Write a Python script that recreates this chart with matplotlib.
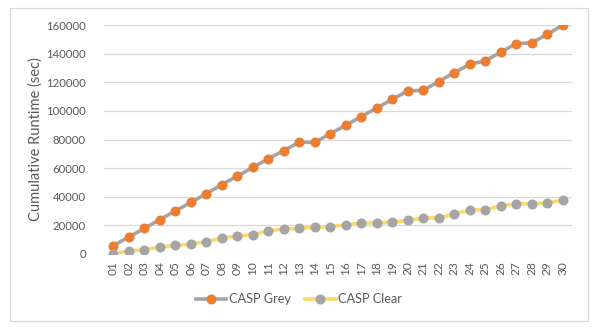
import matplotlib.pyplot as plt
from matplotlib.patches import Rectangle

plt.rcParams['font.family'] = ['Lato', 'DejaVu Sans']

runs = ["%02d" % i for i in range(1, 31)]
casp_grey = [5900, 11800, 17900, 24000, 30100, 36000, 42100, 48500, 54400, 60500,
             66500, 72300, 78100, 78000, 84000, 90000, 96000, 102000, 108000, 114000,
             114400, 120500, 126700, 132500, 135000, 141000, 147000, 147500, 153500, 159800]
casp_clear = [0, 2100, 3000, 4700, 6100, 6800, 8700, 11000, 12700, 13400,
              16200, 17600, 17900, 18800, 19100, 20500, 21600, 21900, 22100, 23500,
              25100, 25300, 27900, 30700, 30900, 33700, 35100, 35100, 35600, 37700]

txt = "#595959"
fig = plt.figure(figsize=(5.98, 3.30), dpi=100)
ax = fig.add_axes([104/598, 1-254/330, (572-104)/598, (254-25)/330])

x = range(len(runs))
ax.plot(x, casp_grey, color="#A5A5A5", lw=2.6, marker="o", ms=6.2,
        mfc="#ED7D31", mec="#ED7D31", label="CASP Grey", zorder=3)
ax.plot(x, casp_clear, color="#FFD966", lw=2.6, marker="o", ms=6.2,
        mfc="#A5A5A5", mec="#A5A5A5", label="CASP Clear", zorder=3)

ax.set_xlim(-0.6, len(runs) - 0.4)
ax.set_ylim(0, 160000)
ax.set_yticks(range(0, 160001, 20000))
ax.set_xticks(list(x))
ax.set_xticklabels(runs, rotation=90)
ax.grid(axis="y", color="#D9D9D9", lw=0.9)
ax.set_axisbelow(True)
for s in ax.spines.values():
    s.set_visible(False)
ax.tick_params(length=0, colors=txt, labelsize=8.6)
ax.tick_params(axis="y", pad=13, labelsize=8.2)
ax.tick_params(axis="x", pad=5)
ax.set_ylabel("Cumulative Runtime (sec)", color=txt, fontsize=10.5)
ax.yaxis.set_label_coords(-0.132, 0.5)

leg = ax.legend(loc="center", ncol=2, frameon=False, fontsize=9.2, labelcolor=txt,
                handlelength=2.4, columnspacing=1.1, handletextpad=0.2)
leg.set_bbox_to_anchor((0.5, 1-299/330), transform=fig.transFigure)

fig.patches.append(Rectangle((10/598, 1-321/330), 578/598, 313/330, transform=fig.transFigure,
                             fill=False, edgecolor="#D9D9D9", lw=0.9))

fig.savefig("out.png", dpi=100)
